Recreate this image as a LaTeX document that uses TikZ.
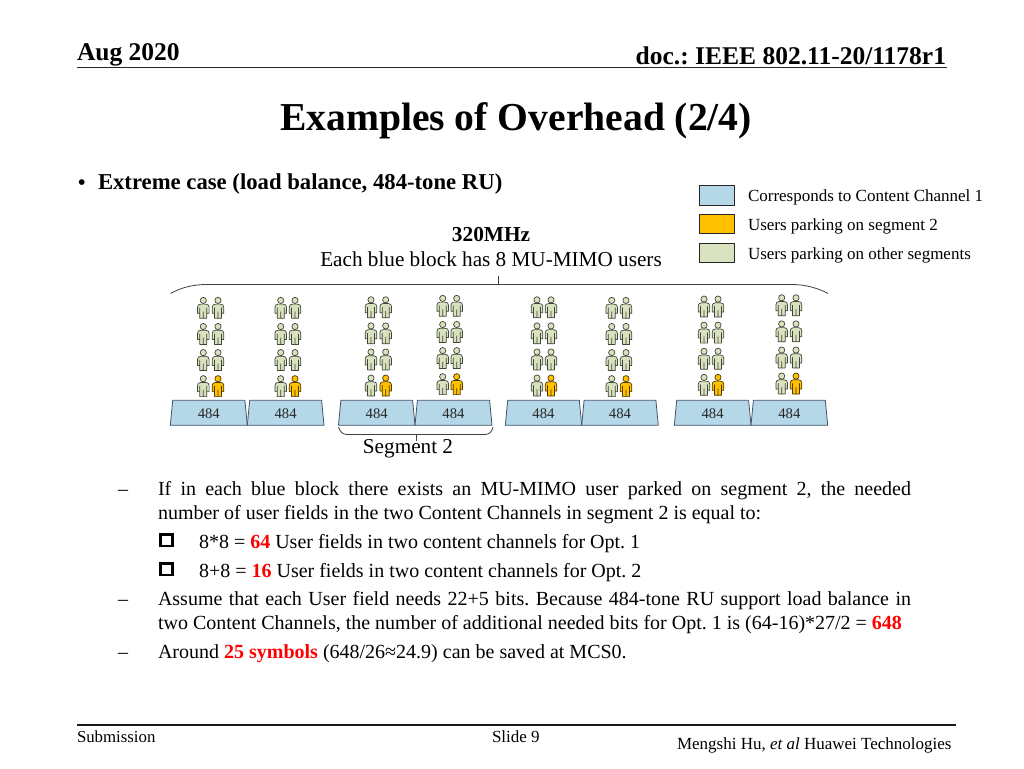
\documentclass[tikz,border=0pt]{standalone}
\usepackage{fontspec}
\setmainfont{Liberation Serif}
\definecolor{blockblue}{HTML}{B4D8E7}
\definecolor{parkorange}{HTML}{FFC000}
\definecolor{parkgreen}{HTML}{D8E2BF}
\definecolor{edgegrey}{HTML}{44546A}
\definecolor{hired}{HTML}{FF0000}
\newcommand{\fs}[1]{\fontsize{#1}{#1}\selectfont}
\newcommand{\redb}[1]{\textcolor{hired}{\textbf{#1}}}
\tikzset{
  x=1pt,y=-1pt,
  txt/.style={inner sep=0pt,outer sep=0pt,anchor=base west,text=black},
  txtc/.style={txt,anchor=base},
  body/.style={txt,font=\fs{20}},
  legendbox/.style={draw=black!85,line width=1pt},
  blockbox/.style={draw=edgegrey,line width=0.8pt,fill=blockblue,line join=round},
  brace/.style={line width=0.8pt,draw=black!75},
  check/.style={draw=black,line width=2.8pt},
}
\newcommand{\person}[3]{%
  \begin{scope}[shift={(#1,#2)}]
    \draw[draw=black!70!#3,line width=0.7pt,fill=#3,line join=round]
      (-2.4,6.8) -- (2.4,6.8) .. controls (4.6,6.8) and (5.8,8) .. (5.8,10)
      -- (5.8,16) -- (3.5,16) -- (3.5,10.5) -- (3.5,21) -- (0,21) -- (0,14.5)
      -- (0,21) -- (-3.5,21) -- (-3.5,10.5) -- (-3.5,16) -- (-5.8,16)
      -- (-5.8,10) .. controls (-5.8,8) and (-4.6,6.8) .. (-2.4,6.8) -- cycle;
    \draw[draw=black!70!#3,line width=0.7pt,fill=#3] (0,3.1) circle[radius=3.1];
  \end{scope}}
\begin{document}
\frenchspacing
\begin{tikzpicture}
\useasboundingbox (0,0) rectangle (1024,768);
\fill[white] (0,0) rectangle (1024,768);
% header
\node[txt,font=\bfseries\fs{25.5}] (date) at (77,60) {Aug 2020};
\node[txt,anchor=base east,font=\bfseries\fs{25.5}] (doc) at (946,64) {doc.: IEEE 802.11-20/1178r1};
\coordinate (hl) at (77,67.7); \coordinate (hr) at (947,67.7);
\draw[line width=1.3pt,draw=black!85] (hl) -- (hr);
\node[txtc,font=\bfseries\fs{39.6}] (title) at (516,130) {Examples of Overhead (2/4)};
\node[txt,font=\fs{24}] (bul) at (77.5,190.5) {•};
\node[txt,font=\bfseries\fs{22.7}] (extreme) at (98,189.5) {Extreme case (load balance, 484-tone RU)};
% legend
\draw[legendbox,fill=blockblue] (699.5,185.5) rectangle (734,205);
\draw[legendbox,fill=parkorange] (699.5,214.5) rectangle (734,233.5);
\draw[legendbox,fill=parkgreen] (699.5,243) rectangle (734,262);
\node[txt,font=\fs{17}] (l1) at (748,201) {Corresponds to Content Channel 1};
\node[txt,font=\fs{17}] (l2) at (748,230) {Users parking on segment 2};
\node[txt,font=\fs{17}] (l3) at (748,259.5) {Users parking on other segments};
% top labels
\node[txtc,font=\bfseries\fs{21.3}] (mhz) at (491,241) {320MHz};
\node[txtc,font=\fs{21.2}] (each) at (491,266) {Each blue block has 8 MU-MIMO users};
% top bracket
\draw[brace] (170.5,293.5) .. controls (180,288) and (193,284.5) .. (206,284.5) -- (792,284.5)
  .. controls (805,284.5) and (818,288) .. (828,293.5);
\draw[brace] (498.5,276) -- (498.5,284.5);
% blocks and users
\foreach \n/\l/\r/\pa/\pb/\t in {
  a/170.3/247.3/203.3/218/297.3,
  b/247.3/324/280.7/295/297.3,
  c/338.5/415/371/385.7/296.7,
  d/415/492/442.7/456.7/295.3,
  e/505.3/581.7/537/551/296.7,
  f/581.7/658.3/611.7/626/297.3,
  g/674.3/751/704/718/296,
  h/751/827.7/781.7/796/294.7}{%
  \draw[blockbox] (\l+2.4,400.3) -- (\r-2.4,400.3) -- (\r,425.3) -- (\l,425.3) -- cycle;
  \node[txtc,font=\fs{14.7},text=black!85] (blk\n) at ({(\l+\r)/2},418) {484};
  \foreach \k in {0,1,2,3}{%
    \person{\pa}{\t+26.1*\k}{parkgreen}
    \ifnum\k<3 \person{\pb}{\t+26.1*\k}{parkgreen}\else\person{\pb}{\t+26.1*\k}{parkorange}\fi
  }
}
% segment brace
\draw[brace] (338.5,427) .. controls (340,432) and (343,434.5) .. (347,434.5) -- (485,434.5)
  .. controls (489,434.5) and (492,432) .. (493,427);
\draw[brace] (416.5,434.5) -- (416.5,441);
\node[txtc,font=\fs{21.2}] (seg) at (408,453) {Segment 2};
% body
\node[body] (d1) at (118,495) {–};
\node[body] (t1) at (158,495) {\hbox to 753pt{If in each blue block there exists an MU-MIMO user parked on segment 2, the needed}};
\node[body] (t2) at (158,519) {number of user fields in the two Content Channels in segment 2 is equal to:};
\draw[check] (160.7,534.5) rectangle (172.6,546);
\node[body] (t3) at (199,548) {8*8 = \redb{64} User fields in two content channels for Opt. 1};
\draw[check] (160.7,563.5) rectangle (172.6,575);
\node[body] (t4) at (199,577) {8+8 = \redb{16} User fields in two content channels for Opt. 2};
\node[body] (d2) at (118,605) {–};
\node[body] (t5) at (158,605) {\hbox to 753pt{Assume that each User field needs 22+5 bits. Because 484-tone RU support load balance in}};
\node[body] (t6) at (158,629) {two Content Channels, the number of additional needed bits for Opt. 1 is (64-16)*27/2 = \redb{648}};
\node[body] (d3) at (118,658) {–};
\node[body] (t7) at (158,658) {Around \redb{25 symbols} (648/26≈24.9) can be saved at MCS0.};
% footer
\coordinate (fl) at (77,725); \coordinate (fr) at (955.5,725);
\draw[line width=1.4pt,draw=black!90] (fl) -- (fr);
\node[txt,font=\fs{16.8}] (sub) at (77,742) {Submission};
\node[txt,font=\fs{17}] (slide) at (492,742) {Slide 9};
\node[txt,font=\fs{17}] (auth) at (677,749) {Mengshi Hu, \textit{et al} Huawei Technologies};
\end{tikzpicture}
\end{document}
